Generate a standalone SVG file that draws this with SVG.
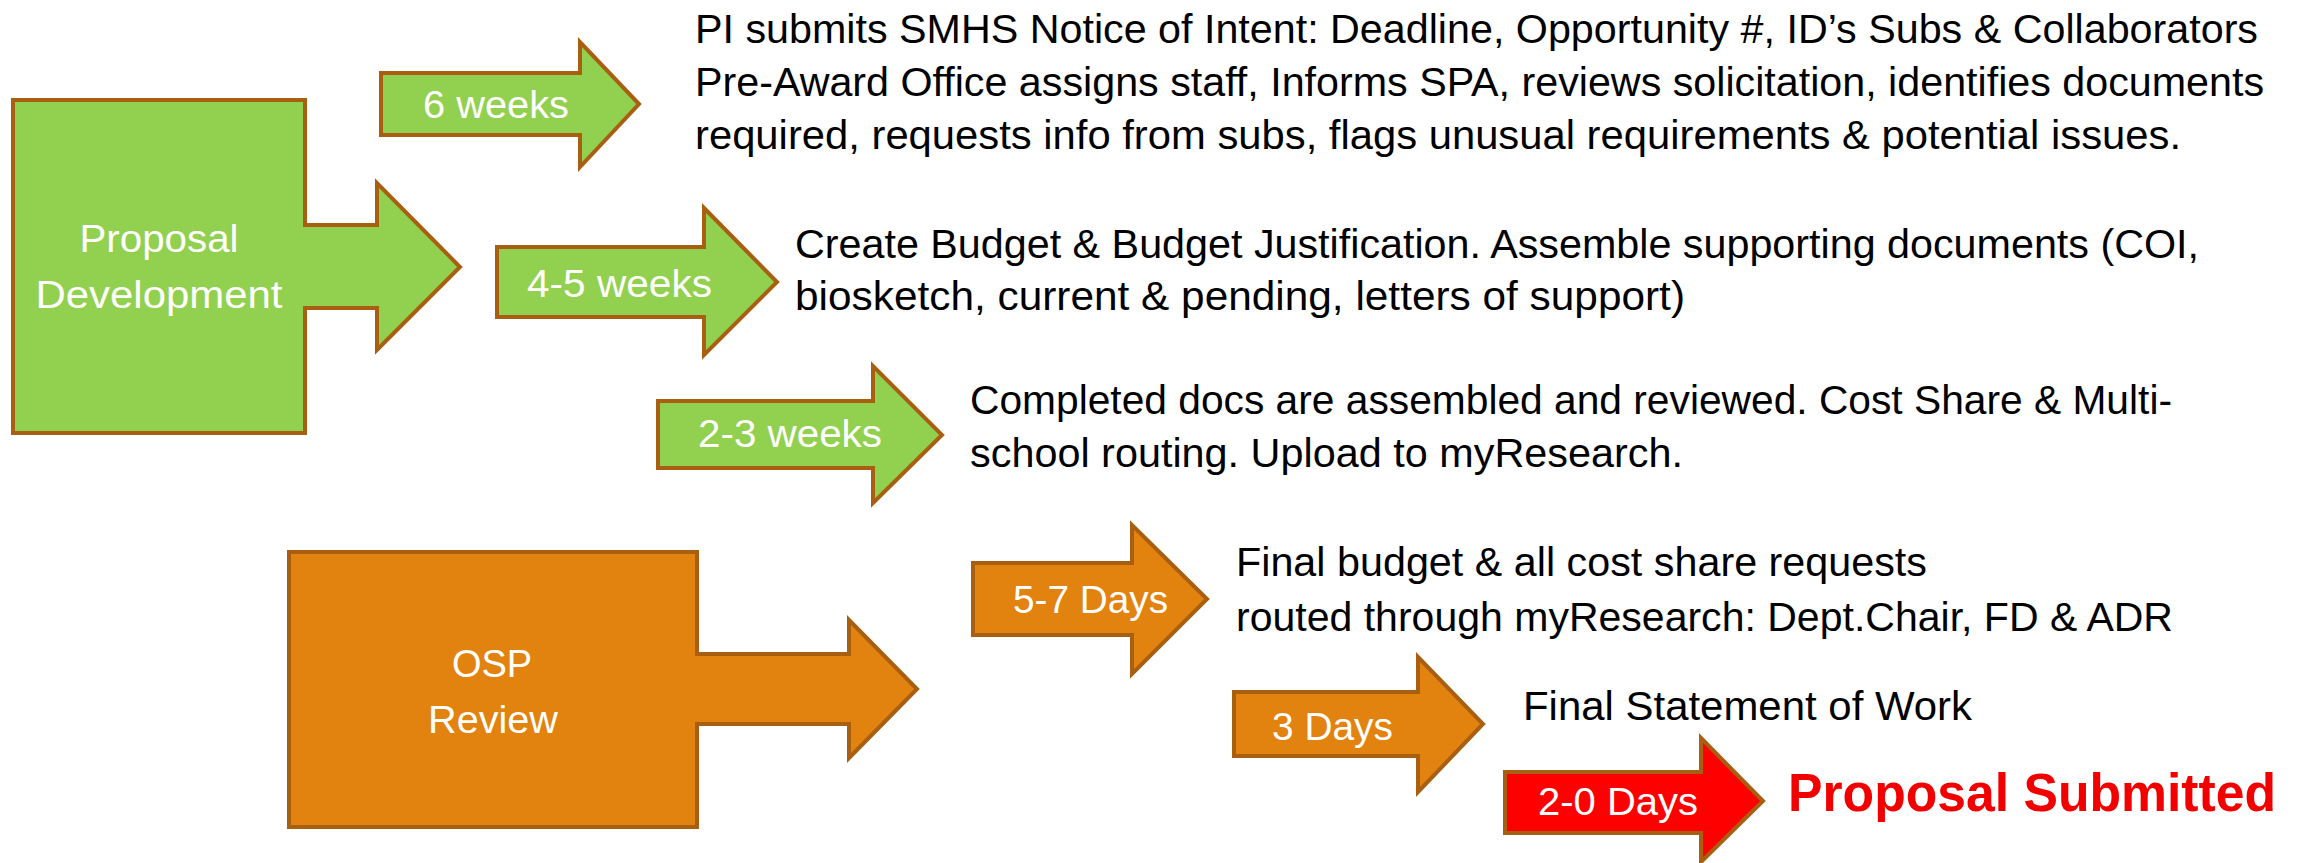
<svg xmlns="http://www.w3.org/2000/svg" width="2306" height="863" viewBox="0 0 2306 863">
  <style>
    .green { fill: #92D050; stroke: #A85F12; stroke-width: 4; stroke-linejoin: miter; }
    .orange { fill: #E2820F; stroke: #A85F12; stroke-width: 4; stroke-linejoin: miter; }
    .red { fill: #FF0000; stroke: #A85F12; stroke-width: 4; stroke-linejoin: miter; }
    .lbl { font-family: "Liberation Sans", Arial, sans-serif; font-size: 38px; fill: #FFFFFF; }
    .body { font-family: "Liberation Sans", Arial, sans-serif; font-size: 41px; fill: #000000; }
    .done { font-family: "Liberation Sans", Arial, sans-serif; font-size: 54px; font-weight: bold; fill: #F20000; }
  </style>
  <rect x="0" y="0" width="2306" height="863" fill="#FFFFFF"/>

  <g id="proposal-development">
    <polygon class="green" points="13,100 305,100 305,225 377,225 377,183 460,267 377,350 377,308 305,308 305,433 13,433"/>
    <text class="lbl" x="159" y="252" text-anchor="middle" font-size="40" textLength="159" lengthAdjust="spacingAndGlyphs">Proposal</text>
    <text class="lbl" x="159" y="308" text-anchor="middle" font-size="40" textLength="247" lengthAdjust="spacingAndGlyphs">Development</text>
  </g>

  <g id="osp-review">
    <polygon class="orange" points="289,552 697,552 697,654 849,654 849,620 917,689 849,758 849,724 697,724 697,827 289,827"/>
    <text class="lbl" x="492" y="677" text-anchor="middle" font-size="39">OSP</text>
    <text class="lbl" x="493" y="733" text-anchor="middle" font-size="39" textLength="130" lengthAdjust="spacingAndGlyphs">Review</text>
  </g>

  <g id="connectors">
    <g id="arrow-6-weeks">
      <polygon class="green" points="381,73 580,73 580,42 639,104 580,167 580,135 381,135"/>
      <text class="lbl" x="423" y="118" textLength="146" lengthAdjust="spacingAndGlyphs">6 weeks</text>
    </g>
    <g id="arrow-4-5-weeks">
      <polygon class="green" points="497,247 704,247 704,208 777,282 704,355 704,317 497,317"/>
      <text class="lbl" x="527" y="297" textLength="185" lengthAdjust="spacingAndGlyphs">4-5 weeks</text>
    </g>
    <g id="arrow-2-3-weeks">
      <polygon class="green" points="658,401 873,401 873,366 942,435 873,503 873,468 658,468"/>
      <text class="lbl" x="698" y="447" textLength="184" lengthAdjust="spacingAndGlyphs">2-3 weeks</text>
    </g>
    <g id="arrow-5-7-days">
      <polygon class="orange" points="973,563 1132,563 1132,525 1207,599 1132,674 1132,635 973,635"/>
      <text class="lbl" x="1013" y="613" textLength="155" lengthAdjust="spacingAndGlyphs">5-7 Days</text>
    </g>
    <g id="arrow-3-days">
      <polygon class="orange" points="1234,692 1418,692 1418,657 1483,724 1418,792 1418,756 1234,756"/>
      <text class="lbl" x="1272" y="740" textLength="121" lengthAdjust="spacingAndGlyphs">3 Days</text>
    </g>
    <g id="arrow-2-0-days">
      <polygon class="red" points="1505,772 1701,772 1701,738 1763,801 1701,862 1701,833 1505,833"/>
      <text class="lbl" x="1538" y="815" textLength="160" lengthAdjust="spacingAndGlyphs">2-0 Days</text>
    </g>
  </g>

  <g id="step-notice-of-intent">
    <text class="body" x="695" y="43" textLength="1563" lengthAdjust="spacingAndGlyphs">PI submits SMHS Notice of Intent: Deadline, Opportunity #, ID’s Subs &amp; Collaborators</text>
    <text class="body" x="695" y="96" textLength="1569" lengthAdjust="spacingAndGlyphs">Pre-Award Office assigns staff, Informs SPA, reviews solicitation, identifies documents</text>
    <text class="body" x="695" y="149" textLength="1486" lengthAdjust="spacingAndGlyphs">required, requests info from subs, flags unusual requirements &amp; potential issues.</text>
  </g>

  <g id="step-budget">
    <text class="body" x="795" y="258" textLength="1404" lengthAdjust="spacingAndGlyphs">Create Budget &amp; Budget Justification. Assemble supporting documents (COI,</text>
    <text class="body" x="795" y="310" textLength="890" lengthAdjust="spacingAndGlyphs">biosketch, current &amp; pending, letters of support)</text>
  </g>

  <g id="step-assemble">
    <text class="body" x="970" y="414" textLength="1202" lengthAdjust="spacingAndGlyphs">Completed docs are assembled and reviewed. Cost Share &amp; Multi-</text>
    <text class="body" x="970" y="467" textLength="713" lengthAdjust="spacingAndGlyphs">school routing. Upload to myResearch.</text>
  </g>

  <g id="step-final-budget">
    <text class="body" x="1236" y="576" textLength="691" lengthAdjust="spacingAndGlyphs">Final budget &amp; all cost share requests</text>
    <text class="body" x="1236" y="631" textLength="937" lengthAdjust="spacingAndGlyphs">routed through myResearch: Dept.Chair, FD &amp; ADR</text>
  </g>

  <g id="step-statement-of-work">
    <text class="body" x="1523" y="720" textLength="449" lengthAdjust="spacingAndGlyphs">Final Statement of Work</text>
  </g>

  <g id="proposal-submitted">
    <text class="done" x="1788" y="811" textLength="488" lengthAdjust="spacingAndGlyphs">Proposal Submitted</text>
  </g>
</svg>
